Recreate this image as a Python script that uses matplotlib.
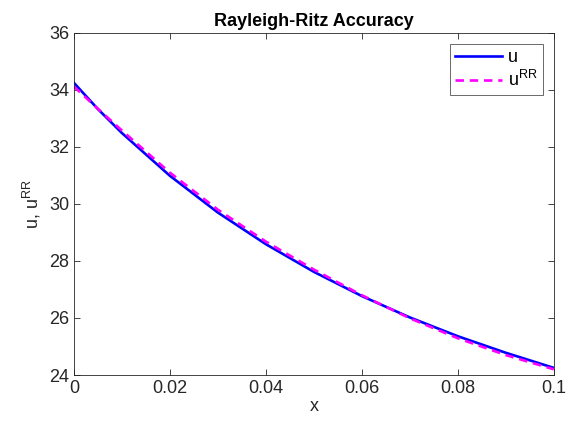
import numpy as np
import matplotlib
matplotlib.use('Agg')
from matplotlib import pyplot as plt

x = [0.0, 0.005, 0.01, 0.02, 0.03, 0.04, 0.05, 0.06, 0.07, 0.08, 0.09, 0.1]
u = [34.25, 33.33, 32.49, 30.99, 29.70, 28.59, 27.62, 26.77, 26.02, 25.36, 24.78, 24.25]
u_rr = [34.12, 33.34, 32.58, 31.10, 29.80, 28.68, 27.70, 26.80, 25.99, 25.29, 24.70, 24.20]

xticks = [0, 0.02, 0.04, 0.06, 0.08, 0.1]
xticklabels = ['0', '0.02', '0.04', '0.06', '0.08', '0.1']
yticks = [24, 26, 28, 30, 32, 34, 36]

plt.rcParams['font.family'] = ['Liberation Sans', 'DejaVu Sans']
plt.rcParams['mathtext.default'] = 'regular'

fig = plt.figure(figsize=(5.68, 4.25), dpi=100)
ax = fig.add_axes([0.130, 0.1176, 0.845, 0.805])

ax.plot(x, u, color=(0, 0, 1), lw=1.9, label='u')
ax.plot(x, u_rr, color=(1, 0, 1), lw=1.9, ls=(0, (3.2, 2.2)), label='u$^{RR}$')

ax.set_xlim(0, 0.1)
ax.set_ylim(24, 36)
ax.set_xticks(xticks)
ax.set_xticklabels(xticklabels)
ax.set_yticks(yticks)

ax.tick_params(direction='in', top=True, right=True, labelsize=13,
               colors='#262626', length=4, width=0.6)
for s in ax.spines.values():
    s.set_color('#262626')
    s.set_linewidth(0.6)

ax.set_title('Rayleigh-Ritz Accuracy', fontsize=13, fontweight='bold', pad=5)
ax.set_xlabel('x', fontsize=13, color='#262626', labelpad=1)
ax.set_ylabel('u, u$^{RR}$', fontsize=13, color='#262626', labelpad=4)

leg = ax.legend(loc='upper right', fontsize=13, frameon=True, fancybox=False,
                edgecolor='#262626', handlelength=2.6, borderpad=0.3,
                labelspacing=0.2, handletextpad=0.3, borderaxespad=0.6)
leg.get_frame().set_linewidth(0.6)

fig.savefig('out.png', dpi=100)
